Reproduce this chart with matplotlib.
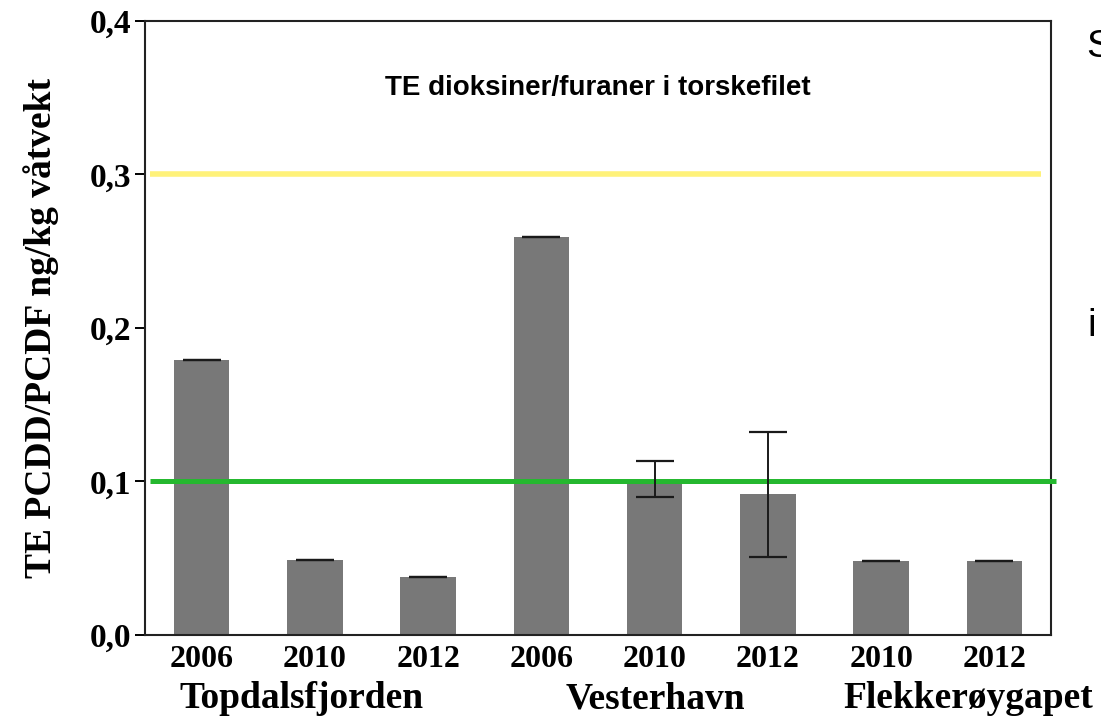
import matplotlib
matplotlib.use("Agg")
import matplotlib.pyplot as plt
import numpy as np

# data
years = ["2006", "2010", "2012", "2006", "2010", "2012", "2010", "2012"]
stations = ["Topdalsfjorden", "Vesterhavn", "Flekkerøygapet"]
values = [0.179, 0.049, 0.038, 0.259, 0.101, 0.092, 0.048, 0.048]
err_low = [0.179, 0.049, 0.038, 0.259, 0.090, 0.051, 0.048, 0.048]
err_high = [0.179, 0.049, 0.038, 0.259, 0.113, 0.132, 0.048, 0.048]
limit_yellow = 0.3
limit_green = 0.1
y_ticks = [0.0, 0.1, 0.2, 0.3, 0.4]
y_tick_labels = ["0,0", "0,1", "0,2", "0,3", "0,4"]

serif = ["Liberation Serif", "DejaVu Serif"]
sans = ["Liberation Sans", "DejaVu Sans"]

fig = plt.figure(figsize=(11.01, 7.22), dpi=100)
ax = fig.add_axes([0.1317, 0.1205, 0.8229, 0.8508])

x = np.arange(len(values))
vals = np.array(values)
yerr = [vals - np.array(err_low), np.array(err_high) - vals]

ax.bar(x, vals, width=0.49, color="#787878", zorder=2)
ax.errorbar(x, vals, yerr=yerr, fmt="none", ecolor="#1a1a1a",
            elinewidth=1.4, capsize=14, capthick=1.6, zorder=4)

# reference lines
ax.plot([-0.455, 7.41], [limit_yellow, limit_yellow], color="#FFF27A",
        linewidth=4, solid_capstyle="butt", zorder=3, clip_on=False)
ax.plot([-0.455, 7.54], [limit_green, limit_green], color="#25B82F",
        linewidth=3.6, solid_capstyle="butt", zorder=3, clip_on=False)

ax.set_xlim(-0.5, 7.5)
ax.set_ylim(0, 0.4)
ax.set_yticks(y_ticks)
ax.set_yticklabels(y_tick_labels, fontfamily=serif, fontweight="bold", fontsize=24)
ax.set_xticks(x)
ax.set_xticklabels(years, fontfamily=serif, fontweight="bold", fontsize=23)
ax.tick_params(axis="y", length=7, width=1.4, pad=3)
ax.tick_params(axis="x", length=0, pad=7)
for s in ax.spines.values():
    s.set_linewidth(1.5)
    s.set_color("#222222")

ax.set_ylabel("TE PCDD/PCDF ng/kg våtvekt", fontfamily=serif, fontweight="bold",
              fontsize=27, labelpad=22)

ax.text(0.5, 0.89, "TE dioksiner/furaner i torskefilet", transform=ax.transAxes,
        ha="center", va="center", fontfamily=sans, fontweight="bold", fontsize=20)

# station names under the years
for name, xpos in zip(stations, [0.88, 4.01, 6.77]):
    ax.text(xpos, -0.0415, name, ha="center", va="center", fontfamily=serif,
            fontweight="bold", fontsize=27, clip_on=False)

# cut-off letters at right edge
fig.text(0.987, 0.935, "S", ha="left", va="center", fontfamily=sans, fontsize=28)
fig.text(0.988, 0.548, "i", ha="left", va="center", fontfamily=sans, fontsize=28)

fig.savefig("out.png", dpi=100)
